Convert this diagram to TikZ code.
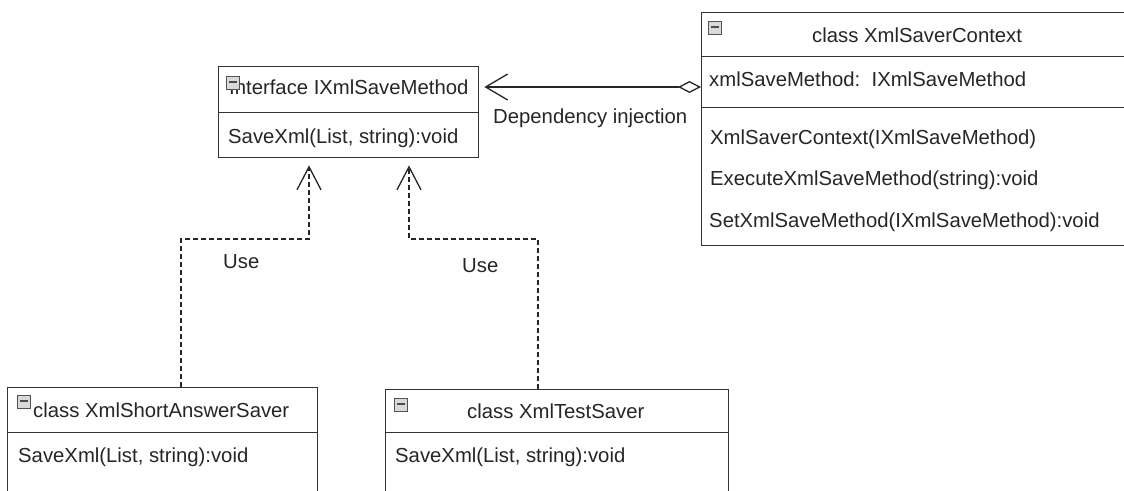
\documentclass[tikz,border=0pt]{standalone}
\usepackage{fontspec}
\setmainfont{Liberation Sans}
\usetikzlibrary{arrows.meta,calc}

\begin{document}
\begin{tikzpicture}[x=1pt,y=-1pt,
  font=\fontsize{20.3}{24}\selectfont,
  compartment/.style={draw=black!80, line width=1.4pt, fill=white, inner sep=0pt, anchor=north west},
  txt/.style={anchor=base west, inner sep=0pt, text=black!85},
  collapse/.style={draw=gray!65!black, fill=gray!30, line width=1pt, minimum size=12.5pt, inner sep=0pt, anchor=north west,
    path picture={\draw[line width=1.8pt, black!70]
      ($(path picture bounding box.west)+(2.5pt,0.5pt)$) -- ($(path picture bounding box.east)+(-2.5pt,0.5pt)$);}},
  dependency/.style={line width=1.3pt, draw=black!85,
    {Diamond[open,length=23pt,width=12pt,line width=1.3pt]}-{Straight Barb[length=22pt,width=26pt,line width=1.3pt]}},
  uses/.style={line width=1.3pt, draw=black!85, dash pattern=on 5pt off 3pt,
    -{Straight Barb[length=23pt,width=24pt,line width=1.3pt]}}
]
\useasboundingbox (0,0) rectangle (1124,490);
\fill[white] (0,0) rectangle (1124,490);

% interface IXmlSaveMethod
\node[compartment, minimum width=260pt, minimum height=46pt] (ih) at (218,66) {};
\node[compartment, minimum width=260pt, minimum height=45pt] (ib) at (218,112) {};
\node[txt] (ihT) at (229,94) {Interface IXmlSaveMethod};
\node[collapse] (ihC) at (226,76) {};
\node[txt] (ibT) at (228,143) {SaveXml(List, string):void};

% class XmlSaverContext (runs past the right edge)
\node[compartment, minimum width=440pt, minimum height=44pt] (ch) at (701,12) {};
\node[compartment, minimum width=440pt, minimum height=51pt] (ca) at (701,56) {};
\node[compartment, minimum width=440pt, minimum height=138pt] (cm) at (701,107) {};
\node[collapse] (chC) at (708,21) {};
\node[txt] (chT) at (812,42) {class XmlSaverContext};
\node[txt] (caT) at (709,86) {xmlSaveMethod:\ \ IXmlSaveMethod};
\node[txt] (cm1) at (710,144) {XmlSaverContext(IXmlSaveMethod)};
\node[txt] (cm2) at (710,185) {ExecuteXmlSaveMethod(string):void};
\node[txt] (cm3) at (709,227) {SetXmlSaveMethod(IXmlSaveMethod):void};

% class XmlShortAnswerSaver
\node[compartment, minimum width=310pt, minimum height=45pt] (sh) at (7,387) {};
\node[compartment, minimum width=310pt, minimum height=80pt] (sb) at (7,432) {};
\node[collapse] (shC) at (17,395) {};
\node[txt] (shT) at (33,417) {class XmlShortAnswerSaver};
\node[txt] (sbT) at (18,462) {SaveXml(List, string):void};

% class XmlTestSaver
\node[compartment, minimum width=343pt, minimum height=43pt] (th) at (385,389) {};
\node[compartment, minimum width=343pt, minimum height=80pt] (tb) at (385,432) {};
\node[collapse] (thC) at (394,398) {};
\node[txt] (thT) at (467,418) {class XmlTestSaver};
\node[txt] (tbT) at (395,462) {SaveXml(List, string):void};

% dependency injection
\coordinate (depy) at (0,87);
\draw[dependency] (ca.west |- depy) -- ($(ih.east |- depy)+(5,0)$);
\node[txt] (depL) at (493,123) {Dependency injection};

% uses
\coordinate (railL) at (181,239);
\coordinate (upL) at (309,239);
\coordinate (railR) at (538,239);
\coordinate (upR) at (409,239);
\draw[uses] (sh.north -| railL) -- (railL) -- (upL) -- ($(upL |- ib.south)+(0,7)$);
\draw[uses] (th.north -| railR) -- (railR) -- (upR) -- ($(upR |- ib.south)+(0,7)$);
\node[txt] (useL) at (223,268) {Use};
\node[txt] (useR) at (462,272) {Use};
\end{tikzpicture}
\end{document}
